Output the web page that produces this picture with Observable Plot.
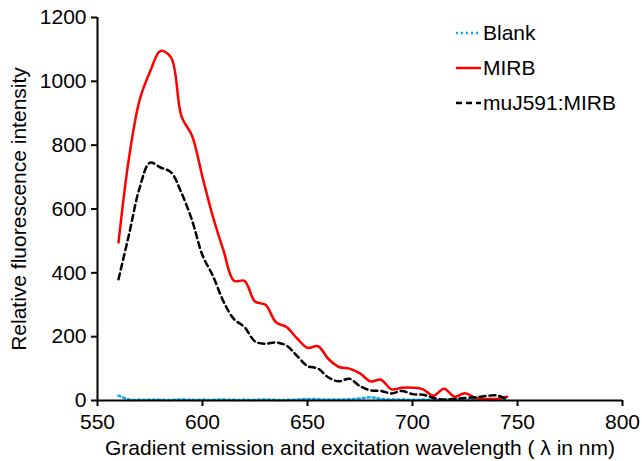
<!DOCTYPE html>
<html>
<head>
<meta charset="utf-8">
<script src="https://cdn.jsdelivr.net/npm/d3@7"></script>
<script src="https://cdn.jsdelivr.net/npm/@observablehq/plot@0.6"></script>
<style>
  html, body { margin: 0; padding: 0; background: #fff; }
  #chart svg { font-family: "Liberation Sans", Arial, sans-serif; }
</style>
</head>
<body>
<div id="chart"></div>
<script>
const wavelengths = [560,565,570,575,580,585,590,595,600,605,610,615,620,625,630,635,640,645,650,655,660,665,670,675,680,685,690,695,700,705,710,715,720,725,730,735,740,745];
const blank = [15,3,2,2,2,2,3,2,2,2,3,2,2,2,3,2,2,3,5,4,3,3,4,6,10,5,3,3,2,3,2,2,3,2,2,2,2,3];
const mirb = [495,760,940,1030,1095,1075,890,830,700,575,470,375,375,310,300,245,230,195,165,170,130,105,100,85,60,65,35,40,40,35,15,37,12,23,8,5,5,12];
const muj = [380,520,665,745,730,715,650,565,455,390,310,255,230,185,178,182,172,140,108,100,72,60,68,45,32,30,22,30,20,18,8,3,5,8,10,14,16,5];
const seriesNames = ["Blank", "MIRB", "muJ591:MIRB"];
const seriesColors = ["#00b0f0", "#ff0000", "#000000"];
const seriesDash = ["2,3", null, "6,4"];
const xTicks = [550,600,650,700,750,800];
const yTicks = [0,200,400,600,800,1000,1200];

const seriesValues = [blank, mirb, muj];
const rows = [];
seriesNames.forEach((name, i) => {
  wavelengths.forEach((w, j) => rows.push({series: name, wl: w, v: seriesValues[i][j]}));
});

const lineMarks = seriesNames.map((name, i) =>
  Plot.line(rows.filter(d => d.series === name), {
    x: "wl", y: "v", stroke: seriesColors[i], strokeWidth: 2.5,
    strokeDasharray: seriesDash[i], curve: "catmull-rom"
  })
);

const FS = 21;
const chart = Plot.plot({
  width: 642, height: 461,
  marginLeft: 97, marginRight: 20, marginTop: 17, marginBottom: 61,
  style: {fontSize: FS + "px", fontFamily: "Liberation Sans, Arial, sans-serif", color: "#000", background: "#fff"},
  x: {domain: [550, 800]},
  y: {domain: [0, 1200]},
  marks: [
    Plot.axisX({ticks: xTicks, tickSize: 6, tickPadding: 8, tickFormat: d => String(d), stroke: "#000", strokeWidth: 2, fontSize: FS,
      label: "Gradient emission and excitation wavelength ( λ in nm)", labelAnchor: "center", labelOffset: 54, labelArrow: "none"}),
    Plot.axisY({ticks: yTicks, tickSize: 6, tickPadding: 5, tickFormat: d => String(d), stroke: "#000", strokeWidth: 2, fontSize: FS,
      label: "Relative fluorescence intensity", labelAnchor: "center", labelOffset: 86, labelArrow: "none"}),
    ...lineMarks,
    Plot.ruleY([0], {stroke: "#000", strokeWidth: 2}),
    Plot.ruleX([550], {stroke: "#000", strokeWidth: 2})
  ]
});
document.getElementById("chart").appendChild(chart);

// legend inside the plot area (top right)
const svg = d3.select(chart);
const lg = svg.append("g").attr("font-size", FS).attr("fill", "#000").attr("text-anchor", "start");
seriesNames.forEach((name, i) => {
  const y = 33 + i * 35;
  lg.append("line").attr("x1", 456).attr("x2", 481).attr("y1", y).attr("y2", y)
    .attr("stroke", seriesColors[i]).attr("stroke-width", 2.5)
    .attr("stroke-dasharray", seriesDash[i]);
  lg.append("text").attr("x", 483).attr("y", y).attr("dy", "0.35em").text(name);
});
</script>
</body>
</html>
